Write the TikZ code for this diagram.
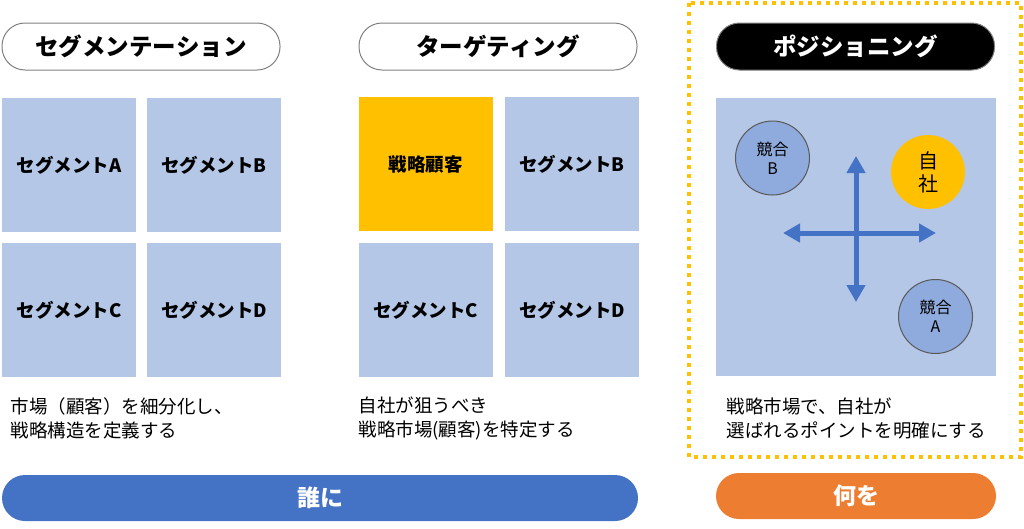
\documentclass[tikz,border=0pt]{standalone}
\usepackage{fontspec}
\setmainfont{Noto Sans CJK JP}
\usetikzlibrary{arrows.meta}
\definecolor{segblue}{HTML}{B4C7E7}
\definecolor{compblue}{HTML}{8FAADC}
\definecolor{gold}{HTML}{FFC000}
\definecolor{barblue}{HTML}{4472C4}
\definecolor{barorange}{HTML}{ED7D31}
\tikzset{
  pill/.style = {rounded corners=23pt, draw=gray, line width=1pt,
    minimum width=278pt, minimum height=47pt,
    font=\fontsize{23.5}{26}\selectfont\bfseries},
  seg/.style = {fill=segblue, minimum size=134pt, inner sep=0pt,
    font=\fontsize{18.5}{22}\selectfont\bfseries},
  comp/.style = {circle, draw=black!65, line width=1pt, fill=compblue,
    minimum size=74pt, align=center, font=\fontsize{16}{19}\selectfont},
  note/.style = {anchor=west, align=left, font=\fontsize{18.5}{24}\selectfont},
  bar/.style = {rounded corners=23pt, minimum height=46pt, text=white,
    font=\fontsize{23}{26}\selectfont\bfseries},
  axis/.style = {draw=barblue, line width=5pt,
    {Triangle[width=18pt,length=17pt]}-{Triangle[width=18pt,length=17pt]}}
}
\begin{document}
\begin{tikzpicture}[x=1pt, y=-1pt]
\useasboundingbox (0,0) rectangle (1024,528);
% titles
\node[pill] (seg) at (141,46.5) {セグメンテーション};
\node[pill] (tgt) at (498,46.5) {ターゲティング};
\node[pill, fill=black, text=white] (pos) at (855.5,46.5) {ポジショニング};
% segmentation grid
\node[seg] (sa) at (69,165) {セグメントA};
\node[seg] (sb) at (214,165) {セグメントB};
\node[seg] (sc) at (69,310) {セグメントC};
\node[seg] (sd) at (214,310) {セグメントD};
% targeting grid
\node[seg, fill=gold] (ta) at (425.5,164) {戦略顧客};
\node[seg] (tb) at (572,164) {セグメントB};
\node[seg] (tc) at (425.5,310) {セグメントC};
\node[seg] (td) at (572,310) {セグメントD};
% positioning map
\draw[gold, line width=4pt, dash pattern=on 4pt off 5pt] (689,3) rectangle (1021,457);
\fill[segblue] (716,98) rectangle (996,376);
\coordinate (up) at (856,156);
\coordinate (down) at (856,302);
\coordinate (left) at (783,233);
\coordinate (right) at (936,233);
\draw[axis] (left) -- (right);
\draw[axis] (up) -- (down);
\node[comp] (cb) at (772.5,158) {競合\\B};
\node[comp] (ca) at (935.5,316.5) {競合\\A};
\node[circle, fill=gold, minimum size=74pt, align=center,
  font=\fontsize{20}{23}\selectfont] (own) at (928,172) {自\\社};
% notes
\node[note] (n1) at (7,418) {市場（顧客）を細分化し、\\戦略構造を定義する};
\node[note] (n2) at (355,418) {自社が狙うべき\\戦略市場(顧客)を特定する};
\node[note] (n3) at (723,418) {戦略市場で、自社が\\選ばれるポイントを明確にする};
% bottom bars
\node[bar, fill=barblue, minimum width=636pt] (who) at (320,498) {誰に};
\node[bar, fill=barorange, minimum width=280pt] (what) at (856,496) {何を};
\end{tikzpicture}
\end{document}
